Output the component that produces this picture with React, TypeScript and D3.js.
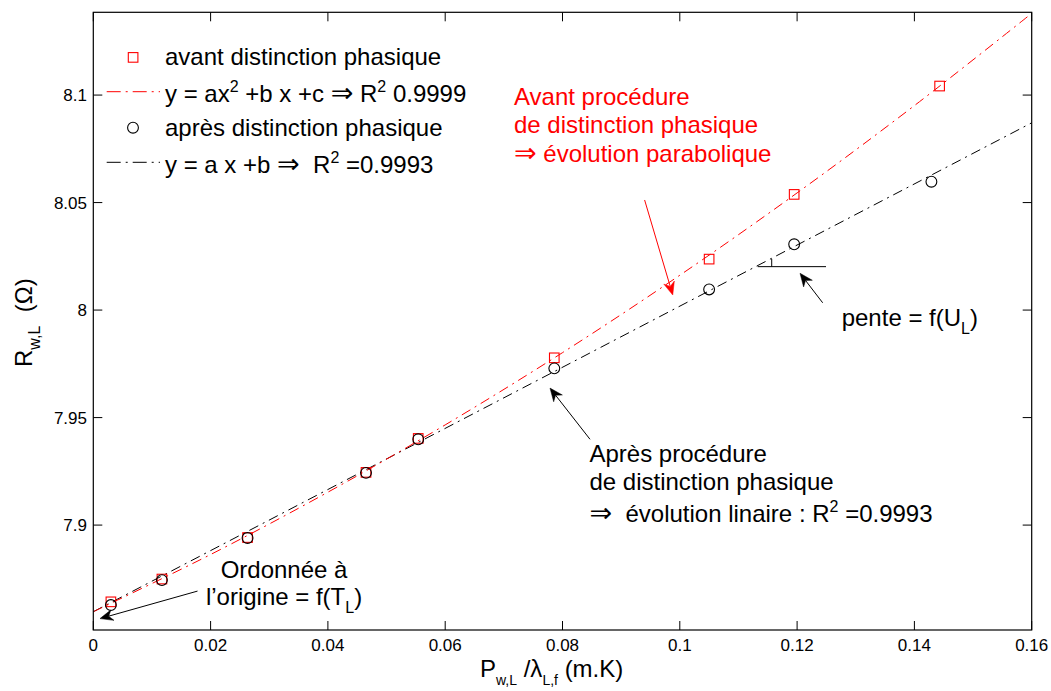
import React from "react";
import * as d3 from "d3";

// ---- data ----
const avantX = [0.003, 0.0117, 0.0263, 0.0465, 0.0554, 0.0786, 0.105, 0.1195, 0.1443];
const avantY = [7.8643, 7.8749, 7.8942, 7.9245, 7.9403, 7.9778, 8.0237, 8.0538, 8.1042];
const apresX = [0.003, 0.0117, 0.0263, 0.0465, 0.0554, 0.0786, 0.105, 0.1195, 0.1429];
const apresY = [7.8628, 7.8744, 7.894, 7.9243, 7.9399, 7.9729, 8.0096, 8.0306, 8.0597];
// fitted curves
const parabFitX = [0, 0.02, 0.04, 0.06, 0.08, 0.1, 0.12, 0.14, 0.16];
const parabFitY = [7.8597, 7.8863, 7.9153, 7.9466, 7.9802, 8.0162, 8.0545, 8.0951, 8.138];
const linFitX = [0, 0.16];
const linFitY = [7.8597, 8.0871];

const xTicks = [0, 0.02, 0.04, 0.06, 0.08, 0.1, 0.12, 0.14, 0.16];
const xTickLabels = ["0", "0.02", "0.04", "0.06", "0.08", "0.1", "0.12", "0.14", "0.16"];
const yTicks = [7.9, 7.95, 8, 8.05, 8.1];
const yTickLabels = ["7.9", "7.95", "8", "8.05", "8.1"];

const FONT = "'Liberation Sans', Arial, Helvetica, 'DejaVu Sans', sans-serif";
const ARROW_FONT = "'DejaVu Sans', sans-serif";
const NB = "\u00A0";

export default function App() {
  const W = 1051, H = 691;
  const left = 93.3, right = 1031.7, top = 12.3, bottom = 630;
  const x = d3.scaleLinear().domain([0, 0.16]).range([left, right]);
  const y = d3.scaleLinear().domain([7.8512, 8.1385]).range([bottom, top]);

  const line = d3.line<[number, number]>().x(d => x(d[0])).y(d => y(d[1]));
  const curve = d3.line<[number, number]>().x(d => x(d[0])).y(d => y(d[1])).curve(d3.curveCatmullRom);

  const parab: [number, number][] = parabFitX.map((v, i) => [v, parabFitY[i]]);
  const lin: [number, number][] = linFitX.map((v, i) => [v, linFitY[i]]);

  const dash = "10,5,2,5";
  const tickLen = 9;

  const arrowHead = (x1: number, y1: number, x2: number, y2: number, color: string) => {
    const ang = Math.atan2(y2 - y1, x2 - x1);
    const L = 13, Wd = 5.5, back = 9;
    const bx = x2 - L * Math.cos(ang), by = y2 - L * Math.sin(ang);
    const nx = -Math.sin(ang), ny = Math.cos(ang);
    const mx = x2 - back * Math.cos(ang), my = y2 - back * Math.sin(ang);
    const p = `M${x2},${y2} L${bx + nx * Wd},${by + ny * Wd} L${mx},${my} L${bx - nx * Wd},${by - ny * Wd} Z`;
    return (
      <g>
        <line x1={x1} y1={y1} x2={mx} y2={my} stroke={color} strokeWidth={1} />
        <path d={p} fill={color} stroke={color} strokeWidth={0.5} />
      </g>
    );
  };

  const Arr = () => <tspan fontFamily={ARROW_FONT} fontSize={27}>⇒</tspan>;

  // annotation anchors in data units
  const redArrow = [0.094, 8.0512, 0.0988, 8.007];
  const penteArrow = [0.12436, 8.0034, 0.1205, 8.0171];
  const apresArrow = [0.08469, 7.9399, 0.07787, 7.9637];
  const ordArrow = [0.01777, 7.8693, 0.00114, 7.8565];

  return (
    <svg width={W} height={H} style={{ position: "absolute", left: 0, top: 0, background: "#fff" }} fontFamily={FONT}>
      <rect x={0} y={0} width={W} height={H} fill="#fff" />
      {/* fit lines */}
      <path d={line(lin) || ""} fill="none" stroke="#000" strokeWidth={1} strokeDasharray={dash} />
      <path d={curve(parab) || ""} fill="none" stroke="#ff0000" strokeWidth={1} strokeDasharray={dash} />
      {/* markers */}
      {avantX.map((v, i) => (
        <rect key={"s" + i} x={x(v) - 4.8} y={y(avantY[i]) - 4.8} width={9.6} height={9.6} fill="none" stroke="#ff0000" strokeWidth={1.1} />
      ))}
      {apresX.map((v, i) => (
        <circle key={"c" + i} cx={x(v)} cy={y(apresY[i])} r={5.4} fill="none" stroke="#000" strokeWidth={1.1} />
      ))}

      {/* frame */}
      <rect x={left} y={top} width={right - left} height={bottom - top} fill="none" stroke="#000" strokeWidth={1.2} />
      {xTicks.map((t, i) => (
        <g key={"xt" + i}>
          <line x1={x(t)} x2={x(t)} y1={bottom} y2={bottom - tickLen} stroke="#000" />
          <line x1={x(t)} x2={x(t)} y1={top} y2={top + tickLen} stroke="#000" />
          <text x={x(t)} y={651} fontSize={17} textAnchor="middle" fill="#000">{xTickLabels[i]}</text>
        </g>
      ))}
      {yTicks.map((t, i) => (
        <g key={"yt" + i}>
          <line x1={left} x2={left + tickLen} y1={y(t)} y2={y(t)} stroke="#000" />
          <line x1={right} x2={right - tickLen} y1={y(t)} y2={y(t)} stroke="#000" />
          <text x={87} y={y(t) + 6} fontSize={17} textAnchor="end" fill="#000">{yTickLabels[i]}</text>
        </g>
      ))}

      {/* axis labels */}
      <text x={480} y={677} fontSize={24} fill="#000">
        P<tspan fontSize={14} dy={8}>w,L</tspan><tspan dy={-8}>{NB}/λ</tspan><tspan fontSize={14} dy={8}>L,f</tspan><tspan dy={-8}>{NB}(m.K)</tspan>
      </text>
      <text transform="translate(32,367) rotate(-90)" fontSize={24} fill="#000">
        R<tspan fontSize={16} dy={8}>w,L</tspan><tspan dy={-8}>{NB + NB}(Ω)</tspan>
      </text>

      {/* legend */}
      <rect x={128.3} y={52.6} width={9.6} height={9.6} fill="none" stroke="#ff0000" strokeWidth={1.1} />
      <text x={165} y={65} fontSize={24} fill="#000">avant distinction phasique</text>
      <line x1={106.7} x2={160} y1={91.7} y2={91.7} stroke="#ff0000" strokeWidth={1} strokeDasharray="14,5,2,5" />
      <text x={165} y={101.5} fontSize={24} fill="#000">
        y = ax<tspan fontSize={16} dy={-10}>2</tspan><tspan dy={10}>{NB}+b x +c </tspan><Arr /><tspan> R</tspan><tspan fontSize={16} dy={-10}>2</tspan><tspan dy={10}>{NB}0.9999</tspan>
      </text>
      <circle cx={133} cy={127.7} r={5.4} fill="none" stroke="#000" strokeWidth={1.1} />
      <text x={165} y={136} fontSize={24} fill="#000">après distinction phasique</text>
      <line x1={106.7} x2={160} y1={162.3} y2={162.3} stroke="#000" strokeWidth={1} strokeDasharray="14,5,2,5" />
      <text x={165} y={172.5} fontSize={24} fill="#000">
        y = a x +b <Arr /><tspan>{NB + NB}R</tspan><tspan fontSize={16} dy={-10}>2</tspan><tspan dy={10}>{NB}=0.9993</tspan>
      </text>

      {/* red annotation */}
      <text x={x(0.07173)} y={y(8.0954)} fontSize={24} fill="#ff0000">
        <tspan x={x(0.07173)}>Avant procédure</tspan>
        <tspan x={x(0.07173)} dy={28}>de distinction phasique</tspan>
        <tspan x={x(0.07173)} dy={29} fontFamily={ARROW_FONT} fontSize={27}>⇒</tspan><tspan>{NB}évolution parabolique</tspan>
      </text>
      {arrowHead(x(redArrow[0]), y(redArrow[1]), x(redArrow[2]), y(redArrow[3]), "#ff0000")}

      {/* pente annotation */}
      <line x1={x(0.11328)} x2={x(0.12493)} y1={y(8.0202)} y2={y(8.0202)} stroke="#000" strokeWidth={1} />
      <line x1={x(0.11567)} x2={x(0.11567)} y1={y(8.0238)} y2={y(8.0202)} stroke="#000" strokeWidth={1} />
      {arrowHead(x(penteArrow[0]), y(penteArrow[1]), x(penteArrow[2]), y(penteArrow[3]), "#000")}
      <text x={x(0.1276)} y={y(7.9926)} fontSize={24} fill="#000">
        pente = f(U<tspan fontSize={16} dy={8}>L</tspan><tspan dy={-8}>)</tspan>
      </text>

      {/* après annotation */}
      {arrowHead(x(apresArrow[0]), y(apresArrow[1]), x(apresArrow[2]), y(apresArrow[3]), "#000")}
      <text x={x(0.0846)} y={y(7.9295)} fontSize={24} fill="#000">
        <tspan x={x(0.0846)}>Après procédure</tspan>
        <tspan x={x(0.0846)} dy={28}>de distinction phasique</tspan>
        <tspan x={x(0.0846)} dy={32} fontFamily={ARROW_FONT} fontSize={27}>⇒</tspan><tspan>{NB + NB}évolution linaire : R</tspan><tspan fontSize={16} dy={-10}>2</tspan><tspan dy={10}>{NB}=0.9993</tspan>
      </text>

      {/* ordonnée annotation */}
      {arrowHead(x(ordArrow[0]), y(ordArrow[1]), x(ordArrow[2]), y(ordArrow[3]), "#000")}
      <text x={x(0.03252)} y={y(7.8754)} fontSize={24} fill="#000" textAnchor="middle">Ordonnée à</text>
      <text x={x(0.03252)} y={y(7.8628)} fontSize={24} fill="#000" textAnchor="middle">
        l’origine = f(T<tspan fontSize={16} dy={8}>L</tspan><tspan dy={-8}>)</tspan>
      </text>
    </svg>
  );
}
